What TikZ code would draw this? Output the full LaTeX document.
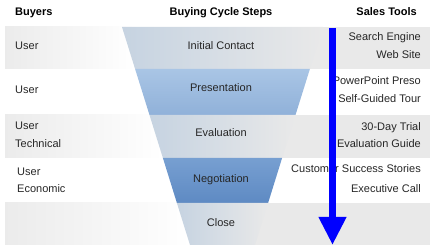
\documentclass[tikz,border=0pt]{standalone}
\usepackage{fontspec}
\setmainfont{Liberation Sans}
\usetikzlibrary{arrows.meta}

\definecolor{bandgray}{HTML}{E9E9E9}
\definecolor{stepgray}{HTML}{C6D3E1}
\definecolor{presotop}{HTML}{A9C5E5}
\definecolor{presobot}{HTML}{90B1D9}
\definecolor{negotop}{HTML}{779FD1}
\definecolor{negobot}{HTML}{5E8AC3}
\definecolor{arrowblue}{HTML}{0000FF}

\begin{document}
\begin{tikzpicture}[x=1pt, y=-1pt,
  head/.style={inner sep=0pt, font=\fontsize{11}{13}\selectfont\bfseries},
  label/.style={inner sep=0pt, font=\fontsize{11}{13}\selectfont, text=black!85},
  graystep/.style={left color=stepgray, middle color=bandgray, right color=bandgray},
  bluestep/.style={top color=#1top, bottom color=#1bot},
  flow/.style={-{Triangle[width=26pt,length=28pt]}, line width=7pt, arrowblue}]

  \useasboundingbox (0,0) rectangle (434,248);

  % Draw gray bands
  \foreach \ya/\yb/\xl in {27/69/135.1, 115/158/162.9, 203/245/190} {
    \fill[bandgray] (5,\ya) rectangle (430,\yb);
    \shade[left color=bandgray!90, right color=white] (5,\ya) rectangle (\xl,\yb);
  }

  % Draw funnel steps
  \shade[graystep] (122,27) -- (323,27) -- (309.9,69) -- (135.1,69) -- cycle;
  \shade[bluestep=preso] (135.1,69) -- (309.9,69) -- (295.5,115) -- (149.5,115) -- cycle;
  \shade[graystep] (149.5,115) -- (295.5,115) -- (282.1,158) -- (162.9,158) -- cycle;
  \shade[bluestep=nego] (162.9,158) -- (282.1,158) -- (268.1,203) -- (176.9,203) -- cycle;
  \shade[graystep] (176.9,203) -- (268.1,203) -- (255,245) -- (190,245) -- cycle;

  % Column headers
  \node[head, anchor=base west] (buyersHead) at (15,15.3) {Buyers};
  \node[head, anchor=base] (stepsHead) at (221,15.3) {Buying Cycle Steps};
  \node[head, anchor=base east] (toolsHead) at (417,15.3) {Sales Tools};

  % Buyers
  \node[label, anchor=base west] (userA) at (15,49.3) {User};
  \node[label, anchor=base west] (userB) at (15,94) {User};
  \node[label, anchor=base west] (userC) at (15,129.5) {User};
  \node[label, anchor=base west] (technical) at (15,147.3) {Technical};
  \node[label, anchor=base west] (userD) at (17,175.7) {User};
  \node[label, anchor=base west] (economic) at (17,193) {Economic};

  % Steps
  \node[label, anchor=base] (contact) at (221,49.3) {Initial Contact};
  \node[label, anchor=base] (presentation) at (221,91.7) {Presentation};
  \node[label, anchor=base] (evaluation) at (221,136.7) {Evaluation};
  \node[label, anchor=base] (negotiation) at (221,182.3) {Negotiation};
  \node[label, anchor=base] (close) at (221,226.7) {Close};

  % Sales tools
  \node[label, anchor=base east] (engine) at (421,41) {Search Engine};
  \node[label, anchor=base east] (website) at (421,58.3) {Web Site};
  \node[label, anchor=base east] (preso) at (421,85) {PowerPoint Preso};
  \node[label, anchor=base east] (tour) at (421,102.7) {Self-Guided Tour};
  \node[label, anchor=base east] (trial) at (421,130.5) {30-Day Trial};
  \node[label, anchor=base east] (guide) at (421,148) {Evaluation Guide};
  \node[label, anchor=base east] (stories) at (421,173) {Customer Success Stories};
  \node[label, anchor=base east] (call) at (421,193) {Executive Call};

  % Draw cycle arrow
  \coordinate (arrowTop) at (332.5,28);
  \coordinate (arrowTip) at (332.5,245);
  \draw[flow] (arrowTop) -- (arrowTip);

\end{tikzpicture}
\end{document}
